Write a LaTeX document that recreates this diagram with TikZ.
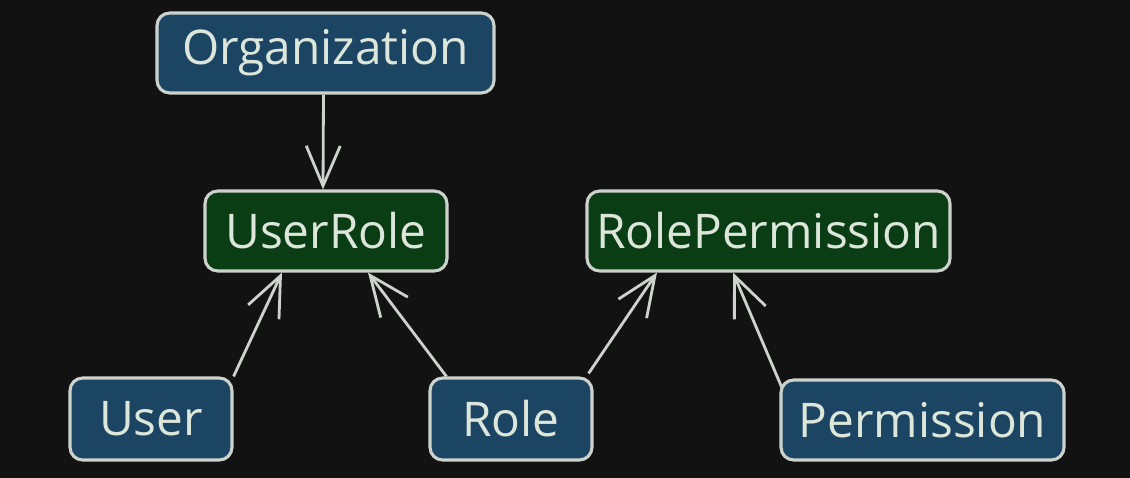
\documentclass[tikz,border=0pt]{standalone}
\usepackage{fontspec}
\setmainfont{Open Sans}
\usepackage{tikz}
\usetikzlibrary{arrows.meta}
\usetikzlibrary{calc}
\definecolor{bg}{HTML}{121212}
\definecolor{tblue}{HTML}{1B4563}
\definecolor{tgreen}{HTML}{0A3D14}
\definecolor{edgegray}{HTML}{CDD2CC}
\definecolor{ink}{HTML}{DDE6DA}

\begin{document}
\begin{tikzpicture}[x=0.025cm,y=-0.025cm,
    tbl/.style={draw=edgegray,line width=2.2pt,rounded corners=9pt,text=ink,
      font=\fontsize{34}{38}\selectfont,inner sep=0pt},
    basetbl/.style={tbl,fill=tblue},
    jointbl/.style={tbl,fill=tgreen},
    arr/.style={draw=edgegray,line width=2pt,
      -{Straight Barb[length=1cm,width=0.85cm,line width=2pt]}}]
  \fill[bg] (0,0) rectangle (1130,478);
  \useasboundingbox (0,0) rectangle (1130,478);

  \node[basetbl,minimum width=337*0.025cm,minimum height=80*0.025cm] (org) at (325.5,53) {Organization};
  \node[jointbl,minimum width=242*0.025cm,minimum height=80*0.025cm] (userrole) at (326,231) {UserRole};
  \node[jointbl,minimum width=363*0.025cm,minimum height=80*0.025cm] (roleperm) at (768.5,231) {RolePermission};
  \node[basetbl,minimum width=162*0.025cm,minimum height=82*0.025cm] (user) at (151,419) {User};
  \node[basetbl,minimum width=162*0.025cm,minimum height=82*0.025cm] (role) at (511,419) {Role};
  \node[basetbl,minimum width=283*0.025cm,minimum height=80*0.025cm] (perm) at (922.5,420) {Permission};

  \coordinate (permtop) at (782,388);
  \draw[arr] ($(org.south)+(-2,0)$) -- ($(userrole.north)+(-3,0)$);
  \draw[arr] (user.north east) -- ($(userrole.south)+(-44,0)$);
  \draw[arr] ($(role.north west)+(18,0)$) -- ($(userrole.south)+(42,0)$);
  \draw[arr] ($(role.north east)+(-5,-3)$) -- ($(roleperm.south)+(-111.5,0)$);
  \draw[arr] (permtop) -- ($(roleperm.south)+(-35.5,0)$);
\end{tikzpicture}
\end{document}
